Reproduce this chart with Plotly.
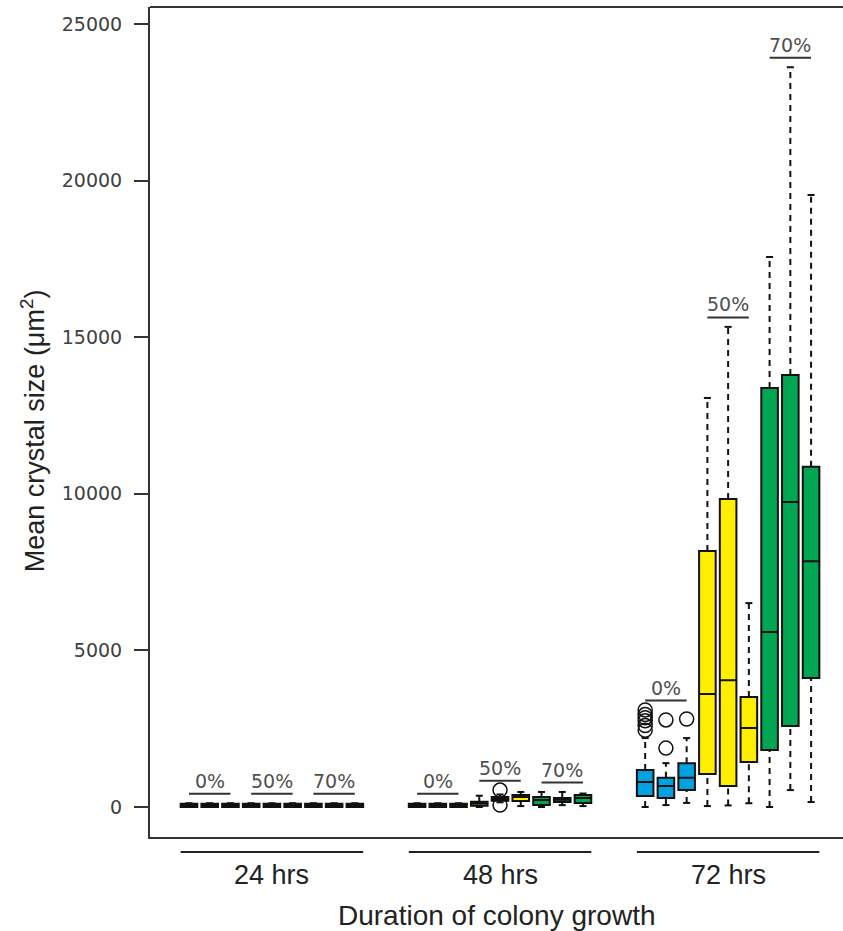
import plotly.graph_objects as go

# ---------------- data ----------------
groups = ["24 hrs", "48 hrs", "72 hrs"]
humidity = ["0%", "50%", "70%"]
colors = {"0%": "#00A3E0", "50%": "#FFEE00", "70%": "#00A651"}

positions = [1, 2, 3, 4, 5, 6, 7, 8, 9,
             12, 13, 14, 15, 16, 17, 18, 19, 20,
             23, 24, 25, 26, 27, 28, 29, 30, 31]
box_humidity = ["0%", "0%", "0%", "50%", "50%", "50%", "70%", "70%", "70%"] * 3

lower_whisker = [0, 0, 0, 0, 0, 0, 0, 0, 0,
                 0, 0, 0, 0, 150, 30, 0, 60, 30,
                 0, 60, 130, 30, 50, 120, 0, 540, 160]
q1 = [0, 0, 0, 0, 0, 0, 0, 0, 0,
      0, 0, 0, 40, 200, 190, 60, 160, 130,
      350, 290, 540, 1050, 670, 1440, 1820, 2590, 4120]
median = [40, 40, 40, 40, 40, 40, 40, 40, 40,
          40, 40, 40, 110, 260, 320, 220, 230, 290,
          800, 670, 930, 3610, 4050, 2520, 5590, 9740, 7850]
q3 = [100, 100, 100, 100, 100, 100, 100, 100, 100,
      100, 100, 100, 170, 320, 380, 320, 290, 380,
      1180, 930, 1400, 8170, 9830, 3510, 13380, 13790, 10860]
upper_whisker = [120, 120, 120, 120, 120, 120, 120, 120, 120,
                 120, 120, 120, 360, 400, 480, 480, 480, 430,
                 2200, 1400, 2200, 13060, 15330, 6510, 17560, 23620, 19540]
outliers = {
    16: [540, 60],
    23: [2450, 2600, 2750, 2850, 2950, 3100],
    24: [1880, 2780],
    25: [2810],
}

y_ticks = [0, 5000, 10000, 15000, 20000, 25000]
y_title = "Mean crystal size (\u03bcm<sup>2</sup>)"
x_title = "Duration of colony growth"

# ---------------- figure ----------------
fig = go.Figure()
AX = "#333333"

# dashed whiskers
wx, wy = [], []
for p, lw, a, b, uw in zip(positions, lower_whisker, q1, q3, upper_whisker):
    wx += [p, p, None, p, p, None]
    wy += [b, uw, None, lw, a, None]
fig.add_trace(go.Scatter(x=wx, y=wy, mode="lines",
                         line=dict(color="#111111", width=2, dash="6px,5px"),
                         hoverinfo="skip", showlegend=False))

# whisker caps
cap = 0.17
cx, cy = [], []
for p, lw, uw in zip(positions, lower_whisker, upper_whisker):
    cx += [p - cap, p + cap, None, p - cap, p + cap, None]
    cy += [uw, uw, None, lw, lw, None]
fig.add_trace(go.Scatter(x=cx, y=cy, mode="lines",
                         line=dict(color="#111111", width=2),
                         hoverinfo="skip", showlegend=False))

# outliers
ox, oy = [], []
for p, vals in outliers.items():
    for v in vals:
        ox.append(p)
        oy.append(v)
fig.add_trace(go.Scatter(x=ox, y=oy, mode="markers",
                         marker=dict(symbol="circle-open", size=14,
                                     line=dict(color="#111111", width=1.5),
                                     color="#111111"),
                         hoverinfo="skip", showlegend=False))

# boxes, one trace per humidity level
for h in humidity:
    idx = [i for i, bh in enumerate(box_humidity) if bh == h]
    fig.add_trace(go.Box(
        x=[positions[i] for i in idx],
        q1=[q1[i] for i in idx],
        median=[median[i] for i in idx],
        q3=[q3[i] for i in idx],
        lowerfence=[q1[i] for i in idx],
        upperfence=[q3[i] for i in idx],
        width=0.8, whiskerwidth=0,
        fillcolor=colors[h],
        line=dict(color="#111111", width=2),
        boxpoints=False, hoverinfo="skip", showlegend=False, name=h,
    ))

# humidity labels above each triplet
lx, ly = [], []
for t in range(9):
    block = range(3 * t, 3 * t + 3)
    top = max(max(upper_whisker[i] for i in block),
              max((max(outliers.get(positions[i], [0])) for i in block)))
    yl = top + 300
    p0, p2 = positions[3 * t], positions[3 * t + 2]
    lx += [p0, p2, None]
    ly += [yl, yl, None]
    fig.add_annotation(x=(p0 + p2) / 2, y=yl, xref="x", yref="y",
                       text=humidity[t % 3], showarrow=False,
                       yanchor="bottom", yshift=0,
                       font=dict(family="DejaVu Sans", size=19, color="#505050"))
fig.add_trace(go.Scatter(x=lx, y=ly, mode="lines",
                         line=dict(color="#333333", width=2),
                         hoverinfo="skip", showlegend=False))

# group lines and labels below the axis
for g, name in enumerate(groups):
    first, last = positions[9 * g], positions[9 * g + 8]
    fig.add_shape(type="line", xref="x", yref="paper",
                  x0=first - 0.4, x1=last + 0.4, y0=-0.018, y1=-0.018,
                  line=dict(color="#222222", width=2))
    fig.add_annotation(x=(first + last) / 2, y=-0.046, xref="x", yref="paper",
                       text=name, showarrow=False, yanchor="middle",
                       font=dict(family="Liberation Sans", size=27, color="#222222"))

fig.add_annotation(x=0.5, y=-0.095, xref="paper", yref="paper",
                   text=x_title, showarrow=False, yanchor="middle",
                   font=dict(family="Liberation Sans", size=28, color="#222222"))
fig.add_annotation(x=-0.169, y=0.49, xref="paper", yref="paper",
                   text=y_title, showarrow=False, textangle=-90,
                   xanchor="center", yanchor="middle",
                   font=dict(family="Liberation Sans", size=27, color="#222222"))

# top frame line
fig.add_shape(type="line", xref="paper", yref="paper", x0=0, x1=1, y0=1, y1=1,
              line=dict(color=AX, width=2))

fig.update_layout(
    width=843, height=931,
    margin=dict(l=150, r=0, t=7, b=94),
    paper_bgcolor="white", plot_bgcolor="white",
    boxmode="overlay",
    xaxis=dict(range=[-0.88, 32.54], showgrid=False, zeroline=False,
               showticklabels=False, ticks="", showline=True,
               linecolor=AX, linewidth=2),
    yaxis=dict(range=[-958, 25543], showgrid=False, zeroline=False,
               tickvals=y_ticks, tickformat="d", ticks="outside",
               ticklen=14, tickwidth=2, tickcolor=AX,
               showline=True, linecolor=AX, linewidth=2,
               ticklabelstandoff=8,
               tickfont=dict(family="DejaVu Sans", size=19, color="#404040")),
)

fig.write_html("out.html")
